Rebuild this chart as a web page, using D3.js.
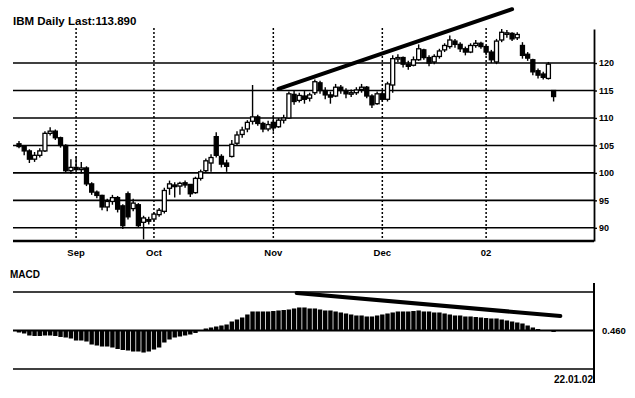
<!DOCTYPE html>
<html>
<head>
<meta charset="utf-8">
<script src="https://cdn.jsdelivr.net/npm/d3@7"></script>
<style>
  body { margin: 0; background: #fff; }
  svg { display: block; font-family: "Liberation Sans", Arial, sans-serif; }
  text { fill: #000; font-weight: bold; }
</style>
</head>
<body>
<svg id="chart" width="635" height="398"></svg>
<script>
// trading days, Aug 2001 - Jan 2002
var dates = ("2001-08-17 2001-08-20 2001-08-21 2001-08-22 2001-08-23 2001-08-24 2001-08-27 2001-08-28 2001-08-29 2001-08-30 2001-08-31 " +
    "2001-09-04 2001-09-05 2001-09-06 2001-09-07 2001-09-10 2001-09-17 2001-09-18 2001-09-19 2001-09-20 2001-09-21 2001-09-24 2001-09-25 2001-09-26 2001-09-27 2001-09-28 " +
    "2001-10-01 2001-10-02 2001-10-03 2001-10-04 2001-10-05 2001-10-08 2001-10-09 2001-10-10 2001-10-11 2001-10-12 2001-10-15 2001-10-16 2001-10-17 2001-10-18 2001-10-19 2001-10-22 2001-10-23 2001-10-24 2001-10-25 2001-10-26 2001-10-29 2001-10-30 2001-10-31 " +
    "2001-11-01 2001-11-02 2001-11-05 2001-11-06 2001-11-07 2001-11-08 2001-11-09 2001-11-12 2001-11-13 2001-11-14 2001-11-15 2001-11-16 2001-11-19 2001-11-20 2001-11-21 2001-11-23 2001-11-26 2001-11-27 2001-11-28 2001-11-29 2001-11-30 " +
    "2001-12-03 2001-12-04 2001-12-05 2001-12-06 2001-12-07 2001-12-10 2001-12-11 2001-12-12 2001-12-13 2001-12-14 2001-12-17 2001-12-18 2001-12-19 2001-12-20 2001-12-21 2001-12-24 2001-12-26 2001-12-27 2001-12-28 2001-12-31 " +
    "2002-01-02 2002-01-03 2002-01-04 2002-01-07 2002-01-08 2002-01-09 2002-01-10 2002-01-11 2002-01-14 2002-01-15 2002-01-16 2002-01-17 2002-01-18 2002-01-22").split(" ")

var open = [105.3,104.8,104.0,102.5,103.2,104.0,107.2,107.6,106.4,105.0,
    100.4,101.0,100.6,100.9,98.0,96.5,95.9,93.8,94.8,95.5,
    94.0,96.2,93.5,94.2,91.0,91.5,91.6,92.4,93.0,97.2,
    97.8,97.6,98.2,97.9,96.4,99.0,100.4,101.8,106.6,103.0,
    101.8,103.0,105.4,107.0,108.0,109.4,110.2,109.0,108.0,109.2,
    108.4,109.6,110.0,114.3,113.2,114.0,113.6,114.6,116.4,115.0,
    114.2,114.0,115.6,115.0,114.4,114.6,115.2,115.6,114.0,112.6,
    114.4,113.4,116.0,120.8,121.0,119.8,119.6,120.6,122.4,121.0,
    120.2,121.2,122.4,123.0,124.0,123.4,122.6,122.0,123.2,123.6,
    123.0,122.0,120.2,124.2,125.4,125.4,124.6,123.2,121.6,120.6,
    118.6,118.0,117.2,115.0]

var high = [105.8,105.0,104.3,103.8,104.5,107.6,108.3,107.9,106.6,105.2,
    102.5,103.0,102.0,101.2,98.3,96.8,96.0,95.3,96.0,95.8,
    94.3,96.6,95.3,94.5,92.2,92.0,92.8,93.6,97.3,98.6,
    98.3,98.4,98.6,98.0,99.3,100.6,102.6,103.4,107.4,103.4,
    102.4,106.0,107.6,108.4,109.6,116.0,110.6,109.3,109.5,110.5,
    110.0,110.6,114.8,114.9,114.6,114.9,114.6,117.0,116.8,115.6,
    114.8,116.2,116.0,115.4,115.2,115.6,116.2,115.8,114.3,114.8,
    115.0,116.6,121.4,121.6,121.2,120.4,121.2,123.4,122.6,121.4,
    121.6,122.6,123.6,125.0,124.4,123.8,123.0,123.6,124.2,123.9,
    123.2,122.4,124.4,126.2,126.0,125.6,125.6,123.8,122.0,120.8,
    119.0,118.4,120.2,115.0]

var low = [104.5,103.2,101.8,102.0,102.8,103.8,106.8,106.0,104.6,100.0,
    99.8,100.0,99.9,97.6,96.0,95.4,93.2,93.0,94.2,92.8,
    89.8,91.5,93.0,90.0,87.9,90.6,91.2,92.0,92.6,96.0,
    95.5,96.0,97.3,95.6,96.2,98.6,100.0,100.2,102.8,101.0,
    100.2,102.8,105.0,106.4,107.4,108.8,108.6,107.4,107.6,107.5,
    108.2,109.0,109.8,112.4,112.8,112.6,113.0,114.2,114.4,113.4,
    112.6,113.8,114.4,113.6,113.8,114.2,114.6,113.6,111.8,112.4,
    113.0,113.0,114.6,120.2,119.2,118.8,119.4,120.4,120.6,119.4,
    119.8,120.8,122.0,122.6,122.8,122.0,121.4,121.8,122.8,122.6,
    121.4,120.0,119.8,123.8,124.6,124.0,124.2,120.8,120.4,117.8,
    117.2,117.0,117.0,113.0]

var close = [104.8,104.0,102.5,103.2,104.0,107.2,107.6,106.4,105.0,100.4,
    101.0,100.6,100.9,98.0,96.5,95.9,93.8,94.8,95.5,93.4,
    90.4,92.0,94.5,90.4,91.8,91.2,92.5,93.2,96.8,98.0,
    97.5,98.1,97.8,96.2,99.0,100.2,102.2,102.8,103.2,101.6,
    101.2,105.2,106.9,107.8,109.2,110.2,109.0,108.0,108.8,108.2,
    109.6,110.0,114.4,113.0,114.1,113.4,114.2,116.6,115.0,114.2,
    113.8,115.6,115.0,114.4,114.6,115.1,115.6,114.0,112.4,114.4,
    113.4,116.2,120.8,121.0,119.8,119.4,120.6,122.6,121.0,120.0,
    121.2,122.2,123.2,124.2,123.4,122.6,122.0,123.2,123.6,123.0,
    122.0,120.6,124.0,125.6,125.5,124.4,125.2,121.4,120.9,118.4,
    117.8,117.4,119.8,113.9]

var macd = [-0.26,-0.39,-0.65,-0.71,-0.71,-0.65,-0.65,-0.71,-0.84,-0.91,
    -1.04,-1.30,-1.30,-1.43,-1.82,-1.95,-2.08,-2.08,-2.21,-2.40,
    -2.53,-2.60,-2.73,-2.73,-2.86,-2.73,-2.47,-2.21,-1.56,-1.17,
    -0.91,-0.78,-0.65,-0.52,-0.32,-0.06,0.26,0.39,0.52,0.65,
    0.78,1.17,1.43,1.69,2.08,2.47,2.47,2.47,2.47,2.53,
    2.60,2.66,2.73,2.86,2.99,2.99,2.86,2.86,2.73,2.60,
    2.60,2.47,2.34,2.21,2.08,1.95,1.95,1.82,1.82,1.95,
    2.08,2.21,2.34,2.47,2.47,2.47,2.53,2.60,2.47,2.47,
    2.34,2.34,2.21,2.08,1.95,1.95,1.82,1.82,1.75,1.69,
    1.62,1.56,1.56,1.43,1.30,1.17,1.04,0.91,0.65,0.39,
    0.19,0.06,0.04,-0.19]

var priceTicks = [90, 95, 100, 105, 110, 115, 120]
var monthTicks = ["2001-09-04", "2001-10-01", "2001-11-01", "2001-12-03", "2002-01-02"]
var monthLabels = ["Sep", "Oct", "Nov", "Dec", "02"]
var macdLines = [-5, 0, 5]
var macdLabel = "0.460"
var lastDate = "22.01.02"
var title = "IBM Daily Last:113.890"
// hand drawn trend lines: [day index, value]
var priceTrend = [[50, 115.3], [95, 129.8]]
var macdTrend = [[53.5, 4.87], [104.3, 1.88]]

var svg = d3.select("#chart"),
    left = 13, right = 594

var x = d3.scaleLinear().domain([0, dates.length - 1]).range([19, 553.6])
var y = d3.scaleLinear().domain([87.6, 126.2]).range([241, 29])
var ym = d3.scaleLinear().domain([-5, 5]).range([369, 292])

var data = dates.map((d, i) => ({ i: i, date: d, o: open[i], h: high[i], l: low[i], c: close[i], m: macd[i] }))

svg.append("text").attr("x", 13).attr("y", 25).style("font-size", "11.5px").text(title)

// price grid
svg.append("g").selectAll("line").data(priceTicks).join("line")
    .attr("x1", left).attr("x2", right)
    .attr("y1", d => y(d)).attr("y2", d => y(d))
    .attr("stroke", "#000").attr("stroke-width", 1.6)

svg.append("line")
    .attr("x1", left).attr("x2", right)
    .attr("y1", y.range()[0]).attr("y2", y.range()[0])
    .attr("stroke", "#000").attr("stroke-width", 2.4)

// month separators
svg.append("g").selectAll("line").data(monthTicks).join("line")
    .attr("x1", d => x(dates.indexOf(d))).attr("x2", d => x(dates.indexOf(d)))
    .attr("y1", 28).attr("y2", y.range()[0])
    .attr("stroke", "#000").attr("stroke-width", 1.5)
    .attr("stroke-dasharray", "2,2")

svg.append("g").selectAll("text").data(monthTicks).join("text")
    .attr("x", d => x(dates.indexOf(d)))
    .attr("y", 256)
    .attr("text-anchor", "middle")
    .style("font-size", "9.5px")
    .text((d, i) => monthLabels[i])

// right price axis
var ay = svg.append("g")
    .attr("transform", `translate(${right},0)`)
    .call(d3.axisRight(y).tickValues(priceTicks).tickSize(3).tickSizeOuter(0).tickPadding(2))
ay.select(".domain").attr("stroke-width", 1.8)
ay.selectAll(".tick line").attr("stroke-width", 1.4)
ay.selectAll("text").style("font-size", "9px").attr("font-family", null).attr("fill", "#000")

// candles
var candle = svg.append("g").selectAll("g").data(data).join("g")

candle.append("line")
    .attr("x1", d => x(d.i)).attr("x2", d => x(d.i))
    .attr("y1", d => y(d.h)).attr("y2", d => y(d.l))
    .attr("stroke", "#000").attr("stroke-width", 1.4)

candle.append("rect")
    .attr("x", d => x(d.i) - 2)
    .attr("width", 4)
    .attr("y", d => y(Math.max(d.o, d.c)))
    .attr("height", d => Math.max(1.5, Math.abs(y(d.o) - y(d.c))))
    .attr("fill", d => d.c > d.o ? "#fff" : "#000")
    .attr("stroke", "#000").attr("stroke-width", 1.3)

svg.append("line")
    .attr("x1", x(priceTrend[0][0])).attr("y1", y(priceTrend[0][1]))
    .attr("x2", x(priceTrend[1][0])).attr("y2", y(priceTrend[1][1]))
    .attr("stroke", "#000").attr("stroke-width", 4).attr("stroke-linecap", "round")

// MACD panel
svg.append("text").attr("x", 10).attr("y", 278).style("font-size", "10px").text("MACD")

svg.append("g").selectAll("line").data(macdLines).join("line")
    .attr("x1", left).attr("x2", right)
    .attr("y1", d => ym(d)).attr("y2", d => ym(d))
    .attr("stroke", "#000").attr("stroke-width", d => d === 0 ? 2 : 1.6)

svg.append("g").selectAll("rect").data(data).join("rect")
    .attr("x", d => x(d.i) - 2.2)
    .attr("width", 4.4)
    .attr("y", d => ym(Math.max(0, d.m)))
    .attr("height", d => Math.abs(ym(d.m) - ym(0)))
    .attr("fill", "#000")

svg.append("line")
    .attr("x1", x(macdTrend[0][0])).attr("y1", ym(macdTrend[0][1]))
    .attr("x2", x(macdTrend[1][0])).attr("y2", ym(macdTrend[1][1]))
    .attr("stroke", "#000").attr("stroke-width", 4).attr("stroke-linecap", "round")

svg.append("line")
    .attr("x1", right).attr("x2", right)
    .attr("y1", 283).attr("y2", 383)
    .attr("stroke", "#000").attr("stroke-width", 2)

svg.append("text")
    .attr("x", right + 8).attr("y", ym(0) + 3.5)
    .style("font-size", "9.5px")
    .text(macdLabel)

svg.append("text")
    .attr("x", right - 1).attr("y", 383)
    .attr("text-anchor", "end")
    .style("font-size", "10px")
    .text(lastDate)
</script>
</body>
</html>
